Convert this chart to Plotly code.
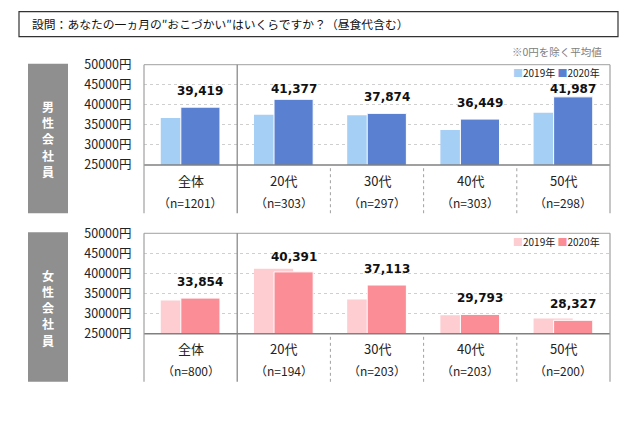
import plotly.graph_objects as go

W, H = 640, 426

categories = ["全体", "20代", "30代", "40代", "50代"]
male_n = ["（n=1201）", "（n=303）", "（n=297）", "（n=303）", "（n=298）"]
female_n = ["（n=800）", "（n=194）", "（n=203）", "（n=203）", "（n=200）"]

male_2019 = [36700, 37500, 37400, 33750, 38000]
male_2020 = [39419, 41377, 37874, 36449, 41987]
female_2019 = [33250, 41150, 33500, 29600, 28800]
female_2020 = [33854, 40391, 37113, 29793, 28327]

yticks = [25000, 30000, 35000, 40000, 45000, 50000]

title_text = "設問：あなたの一ヵ月の″おこづかい″はいくらですか？（昼食代含む）"
note_text = "※0円を除く平均値"

FONT = "Noto Sans CJK JP, Noto Sans, sans-serif"
NUMFONT = "DejaVu Sans, Verdana, sans-serif"

# vertical calibration of the capture (measured from earlier renders)
Y_OFF, Y_SCALE = 10.5, 0.952


def py(p):
    f = (p - Y_OFF) / Y_SCALE
    f = max(f, 0.6)
    return 1 - f / H


def px(p):
    return p / W


fig = go.Figure()

panels = [
    dict(name="男性会社員", v19=male_2019, v20=male_2020, n=male_n,
         c19="#a6cff5", c20="#5a80d2", top=64, base=164, bottom=212,
         ax="", legy=72),
    dict(name="女性会社員", v19=female_2019, v20=female_2020, n=female_n,
         c19="#fdcdd1", c20="#fb8d96", top=232, base=332, bottom=380,
         ax="2", legy=240),
]

x0p, x1p = 144, 610
BW = 0.42
shapes = []
annotations = []

for p in panels:
    xa = "x" + p["ax"]
    ya = "y" + p["ax"]
    fig.add_trace(go.Bar(x=categories, y=p["v19"], marker_color=p["c19"],
                         marker_line_width=0, width=BW, offset=-0.32,
                         xaxis=xa, yaxis=ya, showlegend=False, name="2019年"))
    fig.add_trace(go.Bar(x=categories, y=p["v20"], marker_color=p["c20"],
                         marker_line=dict(color="white", width=1), width=BW, offset=-0.105,
                         xaxis=xa, yaxis=ya, showlegend=False, name="2020年"))
    axkey = "xaxis" + p["ax"]
    aykey = "yaxis" + p["ax"]
    fig.layout[axkey] = dict(domain=[px(x0p), px(x1p)], range=[-0.5, 4.5],
                             type="category", showticklabels=False, showgrid=False,
                             zeroline=False, showline=False, anchor=ya, fixedrange=True)
    fig.layout[aykey] = dict(domain=[py(p["base"]), py(p["top"])], range=[25000, 50000],
                             tickvals=yticks, ticktext=[f"{v}円" for v in yticks],
                             tickfont=dict(family=FONT, size=12.5, color="#222"),
                             showgrid=True, gridcolor="#cfcfcf", griddash="dot", gridwidth=1,
                             zeroline=False, showline=False, ticks="outside", ticklen=9,
                             tickcolor="rgba(0,0,0,0)", anchor=xa, fixedrange=True)
    # plot frame
    shapes.append(dict(type="line", xref="paper", yref="paper", x0=px(x0p), x1=px(x1p),
                       y0=py(p["top"]), y1=py(p["top"]), line=dict(color="#a0a0a0", width=1)))
    shapes.append(dict(type="line", xref="paper", yref="paper", x0=px(x0p), x1=px(x1p),
                       y0=py(p["base"]), y1=py(p["base"]), line=dict(color="#808080", width=1.5)))
    for xe in (x0p, x1p):
        shapes.append(dict(type="line", xref="paper", yref="paper", x0=px(xe), x1=px(xe),
                           y0=py(p["bottom"]), y1=py(p["top"]), line=dict(color="#a0a0a0", width=1.2)))
    # separators
    shapes.append(dict(type="line", xref=xa, yref="paper", x0=0.5, x1=0.5,
                       y0=py(p["bottom"]), y1=py(p["top"]), line=dict(color="#808080", width=1.2)))
    for s in (1.5, 2.5, 3.5):
        shapes.append(dict(type="line", xref=xa, yref="paper", x0=s, x1=s,
                           y0=py(p["bottom"]), y1=py(p["base"]),
                           line=dict(color="#a0a0a0", width=1, dash="dot")))
    # grey side label
    shapes.append(dict(type="rect", xref="paper", yref="paper", x0=px(28), x1=px(68),
                       y0=py(p["bottom"]), y1=py(p["top"] - 1), fillcolor="#8f8f8f",
                       line=dict(width=0)))
    mid = (p["top"] + p["bottom"]) / 2
    for k, ch in enumerate(p["name"]):
        annotations.append(dict(xref="paper", yref="paper", x=px(48),
                                y=py(mid + (k - 2) * 16.2), text=f"<b>{ch}</b>",
                                showarrow=False, font=dict(family=FONT, size=12, color="white"),
                                xanchor="center", yanchor="middle"))
    # category labels
    for i, c in enumerate(categories):
        annotations.append(dict(xref=xa, yref="paper", x=i, y=py(p["base"] + 15), text=c,
                                showarrow=False, font=dict(family=FONT, size=13, color="#222"),
                                xanchor="center", yanchor="middle"))
        annotations.append(dict(xref=xa, yref="paper", x=i, y=py(p["base"] + 37), text=p["n"][i],
                                showarrow=False, font=dict(family=FONT, size=12, color="#222"),
                                xanchor="center", yanchor="middle"))
        # value label: ~16px above bar, but kept clear of the legend row
        bar_top_px = p["base"] - (p["v20"][i] - 25000) / 25000 * (p["base"] - p["top"])
        label_px = max(bar_top_px - 16, p["legy"] + 16)
        annotations.append(dict(xref=xa, yref="paper", x=i + 0.105, y=py(label_px),
                                text=f"<b>{p['v20'][i]:,}</b>", showarrow=False,
                                font=dict(family=NUMFONT, size=12, color="#111"),
                                xanchor="center", yanchor="middle"))
    # legend
    annotations.append(dict(xref="paper", yref="paper", x=px(602), y=py(p["legy"]),
                            text=(f"<span style='color:{p['c19']}'>■</span>2019年 "
                                  f"<span style='color:{p['c20']}'>■</span>2020年"),
                            showarrow=False, font=dict(family=FONT, size=10, color="#222"),
                            xanchor="right", yanchor="middle"))

# title box
shapes.append(dict(type="rect", xref="paper", yref="paper", x0=px(19), x1=px(618),
                   y0=py(36), y1=py(7), line=dict(color="#333", width=1.2)))
annotations.append(dict(xref="paper", yref="paper", x=px(30), y=py(23), text=title_text,
                        showarrow=False, font=dict(family=FONT, size=11.8, color="#111"),
                        xanchor="left", yanchor="middle"))
annotations.append(dict(xref="paper", yref="paper", x=px(604), y=py(51), text=note_text,
                        showarrow=False, font=dict(family=FONT, size=10.5, color="#808080"),
                        xanchor="right", yanchor="middle"))

fig.update_layout(width=W, height=H, margin=dict(l=0, r=0, t=0, b=0),
                  paper_bgcolor="white", plot_bgcolor="white", barmode="overlay",
                  shapes=shapes, annotations=annotations, font=dict(family=FONT))

fig.write_html(
    "out.html",
    config={"displayModeBar": False, "staticPlot": True},
    post_script=(
        "document.documentElement.style.margin='0';"
        "document.body.style.margin='0';"
        "document.body.style.overflow='hidden';"
        "var gd=document.getElementById('{plot_id}');"
        "gd.style.position='fixed';gd.style.top='0';gd.style.left='0';"
    ),
)
